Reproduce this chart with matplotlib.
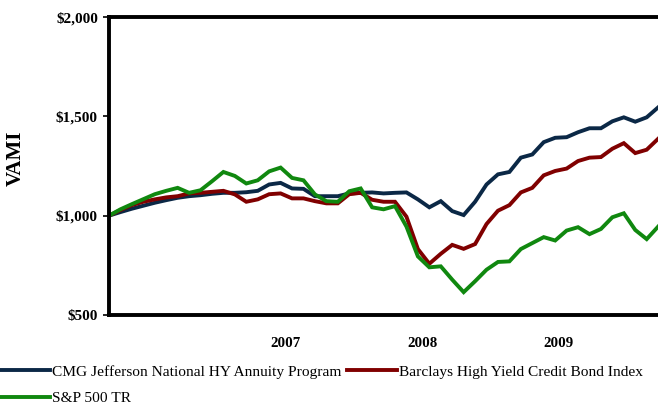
import matplotlib
matplotlib.use("Agg")
import matplotlib.pyplot as plt
import numpy as np

# ── data (monthly VAMI, growth of $1,000) ─────────────────────────────────────
cmg = [1000, 1018, 1035, 1050, 1065, 1078, 1090, 1098, 1103, 1110,
       1115, 1115, 1118, 1125, 1157, 1165, 1137, 1135, 1098, 1098,
       1098, 1112, 1115, 1117, 1112, 1115, 1117, 1082, 1042, 1073,
       1023, 1003, 1070, 1157, 1208, 1220, 1292, 1308, 1370, 1392,
       1395, 1420, 1440, 1440, 1475, 1495, 1473, 1495, 1545]
barclays = [1000, 1028, 1053, 1070, 1082, 1092, 1098, 1112, 1115, 1120,
            1125, 1107, 1070, 1082, 1108, 1112, 1087, 1087, 1073, 1062,
            1062, 1108, 1115, 1080, 1070, 1070, 995, 832, 758, 808,
            853, 833, 857, 958, 1025, 1053, 1117, 1140, 1203, 1225,
            1237, 1275, 1292, 1295, 1337, 1365, 1315, 1332, 1387]
sp500 = [1000, 1032, 1058, 1083, 1108, 1125, 1140, 1115, 1128, 1173,
         1220, 1200, 1162, 1178, 1223, 1242, 1190, 1178, 1107, 1073,
         1070, 1123, 1137, 1042, 1032, 1048, 945, 795, 740, 745,
         678, 615, 670, 728, 767, 770, 832, 862, 892, 875,
         925, 942, 907, 933, 992, 1012, 928, 882, 945]

series_names = ["CMG Jefferson National HY Annuity Program",
                "Barclays High Yield Credit Bond Index",
                "S&P 500 TR"]
series_colors = ["#0b2846", "#800000", "#10880f"]

year_labels = ["2007", "2008", "2009"]
year_pos = [15.4, 27.4, 39.3]   # month index where each year label sits

y_ticks = [500, 1000, 1500, 2000]
y_tick_labels = ["$500", "$1,000", "$1,500", "$2,000"]

# ── plot ──────────────────────────────────────────────────────────────────────
plt.rcParams["font.family"] = ["Liberation Serif", "DejaVu Serif"]

fig = plt.figure(figsize=(6.58, 4.04), dpi=100)
ax = fig.add_axes([109 / 658, 89 / 404, 556 / 658, 298 / 404])

months = np.arange(len(cmg))
lines = []
for vals, name, col in zip([cmg, barclays, sp500], series_names, series_colors):
    ln, = ax.plot(months, vals, color=col, linewidth=2.8, label=name,
                  solid_joinstyle="miter")
    lines.append(ln)

ax.set_xlim(0, 48.6)
ax.set_ylim(500, 2000)
ax.set_yticks(y_ticks)
ax.set_yticklabels(y_tick_labels, fontsize=11, fontweight="bold")
ax.set_xticks(year_pos)
ax.set_xticklabels(year_labels, fontsize=10.8, fontweight="bold")
ax.tick_params(axis="x", length=0, pad=16)
ax.tick_params(axis="y", length=4, width=1.2, pad=4, direction="out")

for side in ["left", "bottom", "top"]:
    ax.spines[side].set_linewidth(2.8)
ax.spines["right"].set_visible(False)

ax.set_ylabel("VAMI", fontsize=15, fontweight="bold", va="center")
ax.yaxis.set_label_coords(-0.168, 0.525)

# legend filled column-wise: CMG + S&P in column 1, Barclays in column 2
order = [0, 2, 1]
fig.legend(handles=[lines[i] for i in order], loc="upper left",
           bbox_to_anchor=(0.0, 0.097), ncol=2, frameon=False, fontsize=11.1,
           handlelength=3.25, handletextpad=0.13, columnspacing=0.33,
           borderpad=0, borderaxespad=0, labelspacing=0.84)

fig.savefig("out.png", dpi=100)
